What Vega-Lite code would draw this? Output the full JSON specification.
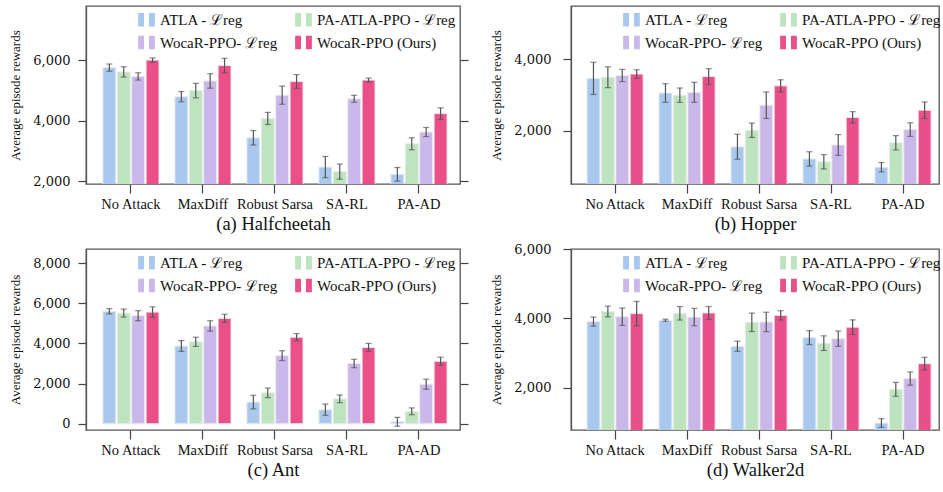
{
  "$schema": "https://vega.github.io/schema/vega-lite/v6.json",
  "padding": {"left": 9, "top": 5, "right": 0, "bottom": 0},
  "config": {
    "font": "Liberation Serif",
    "view": {"stroke": "#555", "strokeWidth": 1.3},
    "axis": {"labelFont": "Liberation Serif", "titleFont": "Liberation Serif", "domainColor": "#555", "tickColor": "#444", "labelColor": "#111", "titleColor": "#111", "grid": false, "domainWidth": 1.3, "tickWidth": 1.2},
    "axisY": {"labelFont": "DejaVu Serif", "labelFontSize": 13, "titleFontSize": 13, "titleFontWeight": "normal", "tickSize": 8, "labelPadding": 8, "titlePadding": 10, "format": ",.0f"},
    "axisX": {"labelFontSize": 14.5, "labelAngle": 0, "tickSize": 9, "labelPadding": 4, "titleFontSize": 18.5, "titleFontWeight": "normal", "titlePadding": 4, "domain": false},
    "legend": {"orient": "none", "legendX": 52, "legendY": 5, "columns": 2, "direction": "horizontal", "title": null, "labelFont": "Liberation Serif", "labelFontSize": 15, "labelColor": "#111", "symbolType": "M-1,-0.8H-0.3V0.8H-1Z M0.3,-0.8H1V0.8H0.3Z", "symbolSize": 280, "symbolStrokeWidth": 0, "symbolOpacity": 1, "labelOffset": 5, "rowPadding": 6, "columnPadding": 17, "labelLimit": 200}
  },
  "datasets": {
    "rewards": [
      {"env": "Halfcheetah", "attack": "No Attack", "method": "ATLA - ℒreg", "mean": 5760, "lo": 5640, "hi": 5880},
      {"env": "Halfcheetah", "attack": "No Attack", "method": "PA-ATLA-PPO - ℒreg", "mean": 5620, "lo": 5450, "hi": 5790},
      {"env": "Halfcheetah", "attack": "No Attack", "method": "WocaR-PPO- ℒreg", "mean": 5470, "lo": 5350, "hi": 5590},
      {"env": "Halfcheetah", "attack": "No Attack", "method": "WocaR-PPO (Ours)", "mean": 6010, "lo": 5940, "hi": 6080},
      {"env": "Halfcheetah", "attack": "MaxDiff", "method": "ATLA - ℒreg", "mean": 4800, "lo": 4630, "hi": 4970},
      {"env": "Halfcheetah", "attack": "MaxDiff", "method": "PA-ATLA-PPO - ℒreg", "mean": 5000, "lo": 4760, "hi": 5240},
      {"env": "Halfcheetah", "attack": "MaxDiff", "method": "WocaR-PPO- ℒreg", "mean": 5320, "lo": 5080, "hi": 5560},
      {"env": "Halfcheetah", "attack": "MaxDiff", "method": "WocaR-PPO (Ours)", "mean": 5830, "lo": 5590, "hi": 6070},
      {"env": "Halfcheetah", "attack": "Robust Sarsa", "method": "ATLA - ℒreg", "mean": 3440, "lo": 3200, "hi": 3680},
      {"env": "Halfcheetah", "attack": "Robust Sarsa", "method": "PA-ATLA-PPO - ℒreg", "mean": 4080, "lo": 3880, "hi": 4280},
      {"env": "Halfcheetah", "attack": "Robust Sarsa", "method": "WocaR-PPO- ℒreg", "mean": 4850, "lo": 4550, "hi": 5150},
      {"env": "Halfcheetah", "attack": "Robust Sarsa", "method": "WocaR-PPO (Ours)", "mean": 5300, "lo": 5070, "hi": 5530},
      {"env": "Halfcheetah", "attack": "SA-RL", "method": "ATLA - ℒreg", "mean": 2470, "lo": 2120, "hi": 2820},
      {"env": "Halfcheetah", "attack": "SA-RL", "method": "PA-ATLA-PPO - ℒreg", "mean": 2320, "lo": 2070, "hi": 2570},
      {"env": "Halfcheetah", "attack": "SA-RL", "method": "WocaR-PPO- ℒreg", "mean": 4730, "lo": 4615, "hi": 4845},
      {"env": "Halfcheetah", "attack": "SA-RL", "method": "WocaR-PPO (Ours)", "mean": 5350, "lo": 5285, "hi": 5415},
      {"env": "Halfcheetah", "attack": "PA-AD", "method": "ATLA - ℒreg", "mean": 2230, "lo": 2005, "hi": 2455},
      {"env": "Halfcheetah", "attack": "PA-AD", "method": "PA-ATLA-PPO - ℒreg", "mean": 3240, "lo": 3040, "hi": 3440},
      {"env": "Halfcheetah", "attack": "PA-AD", "method": "WocaR-PPO- ℒreg", "mean": 3630, "lo": 3480, "hi": 3780},
      {"env": "Halfcheetah", "attack": "PA-AD", "method": "WocaR-PPO (Ours)", "mean": 4240, "lo": 4050, "hi": 4430},

      {"env": "Hopper", "attack": "No Attack", "method": "ATLA - ℒreg", "mean": 3470, "lo": 3020, "hi": 3920},
      {"env": "Hopper", "attack": "No Attack", "method": "PA-ATLA-PPO - ℒreg", "mean": 3500, "lo": 3210, "hi": 3790},
      {"env": "Hopper", "attack": "No Attack", "method": "WocaR-PPO- ℒreg", "mean": 3550, "lo": 3380, "hi": 3720},
      {"env": "Hopper", "attack": "No Attack", "method": "WocaR-PPO (Ours)", "mean": 3590, "lo": 3470, "hi": 3710},
      {"env": "Hopper", "attack": "MaxDiff", "method": "ATLA - ℒreg", "mean": 3060, "lo": 2800, "hi": 3320},
      {"env": "Hopper", "attack": "MaxDiff", "method": "PA-ATLA-PPO - ℒreg", "mean": 3000, "lo": 2800, "hi": 3200},
      {"env": "Hopper", "attack": "MaxDiff", "method": "WocaR-PPO- ℒreg", "mean": 3080, "lo": 2800, "hi": 3360},
      {"env": "Hopper", "attack": "MaxDiff", "method": "WocaR-PPO (Ours)", "mean": 3520, "lo": 3300, "hi": 3740},
      {"env": "Hopper", "attack": "Robust Sarsa", "method": "ATLA - ℒreg", "mean": 1560, "lo": 1210, "hi": 1910},
      {"env": "Hopper", "attack": "Robust Sarsa", "method": "PA-ATLA-PPO - ℒreg", "mean": 2020, "lo": 1820, "hi": 2220},
      {"env": "Hopper", "attack": "Robust Sarsa", "method": "WocaR-PPO- ℒreg", "mean": 2720, "lo": 2350, "hi": 3090},
      {"env": "Hopper", "attack": "Robust Sarsa", "method": "WocaR-PPO (Ours)", "mean": 3260, "lo": 3090, "hi": 3430},
      {"env": "Hopper", "attack": "SA-RL", "method": "ATLA - ℒreg", "mean": 1220, "lo": 1020, "hi": 1420},
      {"env": "Hopper", "attack": "SA-RL", "method": "PA-ATLA-PPO - ℒreg", "mean": 1140, "lo": 940, "hi": 1340},
      {"env": "Hopper", "attack": "SA-RL", "method": "WocaR-PPO- ℒreg", "mean": 1610, "lo": 1320, "hi": 1900},
      {"env": "Hopper", "attack": "SA-RL", "method": "WocaR-PPO (Ours)", "mean": 2380, "lo": 2220, "hi": 2540},
      {"env": "Hopper", "attack": "PA-AD", "method": "ATLA - ℒreg", "mean": 990, "lo": 860, "hi": 1120},
      {"env": "Hopper", "attack": "PA-AD", "method": "PA-ATLA-PPO - ℒreg", "mean": 1670, "lo": 1470, "hi": 1870},
      {"env": "Hopper", "attack": "PA-AD", "method": "WocaR-PPO- ℒreg", "mean": 2040, "lo": 1850, "hi": 2230},
      {"env": "Hopper", "attack": "PA-AD", "method": "WocaR-PPO (Ours)", "mean": 2580, "lo": 2350, "hi": 2810},

      {"env": "Ant", "attack": "No Attack", "method": "ATLA - ℒreg", "mean": 5600, "lo": 5470, "hi": 5730},
      {"env": "Ant", "attack": "No Attack", "method": "PA-ATLA-PPO - ℒreg", "mean": 5510, "lo": 5310, "hi": 5710},
      {"env": "Ant", "attack": "No Attack", "method": "WocaR-PPO- ℒreg", "mean": 5380, "lo": 5130, "hi": 5630},
      {"env": "Ant", "attack": "No Attack", "method": "WocaR-PPO (Ours)", "mean": 5560, "lo": 5300, "hi": 5820},
      {"env": "Ant", "attack": "MaxDiff", "method": "ATLA - ℒreg", "mean": 3870, "lo": 3600, "hi": 4140},
      {"env": "Ant", "attack": "MaxDiff", "method": "PA-ATLA-PPO - ℒreg", "mean": 4080, "lo": 3850, "hi": 4310},
      {"env": "Ant", "attack": "MaxDiff", "method": "WocaR-PPO- ℒreg", "mean": 4870, "lo": 4610, "hi": 5130},
      {"env": "Ant", "attack": "MaxDiff", "method": "WocaR-PPO (Ours)", "mean": 5250, "lo": 5050, "hi": 5450},
      {"env": "Ant", "attack": "Robust Sarsa", "method": "ATLA - ℒreg", "mean": 1080, "lo": 740, "hi": 1420},
      {"env": "Ant", "attack": "Robust Sarsa", "method": "PA-ATLA-PPO - ℒreg", "mean": 1540, "lo": 1300, "hi": 1780},
      {"env": "Ant", "attack": "Robust Sarsa", "method": "WocaR-PPO- ℒreg", "mean": 3390, "lo": 3145, "hi": 3635},
      {"env": "Ant", "attack": "Robust Sarsa", "method": "WocaR-PPO (Ours)", "mean": 4310, "lo": 4130, "hi": 4490},
      {"env": "Ant", "attack": "SA-RL", "method": "ATLA - ℒreg", "mean": 700, "lo": 420, "hi": 980},
      {"env": "Ant", "attack": "SA-RL", "method": "PA-ATLA-PPO - ℒreg", "mean": 1240, "lo": 1050, "hi": 1430},
      {"env": "Ant", "attack": "SA-RL", "method": "WocaR-PPO- ℒreg", "mean": 3000, "lo": 2790, "hi": 3210},
      {"env": "Ant", "attack": "SA-RL", "method": "WocaR-PPO (Ours)", "mean": 3800, "lo": 3600, "hi": 4000},
      {"env": "Ant", "attack": "PA-AD", "method": "ATLA - ℒreg", "mean": 100, "lo": -120, "hi": 320},
      {"env": "Ant", "attack": "PA-AD", "method": "PA-ATLA-PPO - ℒreg", "mean": 620, "lo": 450, "hi": 790},
      {"env": "Ant", "attack": "PA-AD", "method": "WocaR-PPO- ℒreg", "mean": 1970, "lo": 1720, "hi": 2220},
      {"env": "Ant", "attack": "PA-AD", "method": "WocaR-PPO (Ours)", "mean": 3110, "lo": 2910, "hi": 3310},

      {"env": "Walker2d", "attack": "No Attack", "method": "ATLA - ℒreg", "mean": 3910, "lo": 3780, "hi": 4040},
      {"env": "Walker2d", "attack": "No Attack", "method": "PA-ATLA-PPO - ℒreg", "mean": 4200, "lo": 4045, "hi": 4355},
      {"env": "Walker2d", "attack": "No Attack", "method": "WocaR-PPO- ℒreg", "mean": 4050, "lo": 3800, "hi": 4300},
      {"env": "Walker2d", "attack": "No Attack", "method": "WocaR-PPO (Ours)", "mean": 4140, "lo": 3790, "hi": 4490},
      {"env": "Walker2d", "attack": "MaxDiff", "method": "ATLA - ℒreg", "mean": 3950, "lo": 3920, "hi": 3980},
      {"env": "Walker2d", "attack": "MaxDiff", "method": "PA-ATLA-PPO - ℒreg", "mean": 4150, "lo": 3955, "hi": 4345},
      {"env": "Walker2d", "attack": "MaxDiff", "method": "WocaR-PPO- ℒreg", "mean": 4040, "lo": 3790, "hi": 4290},
      {"env": "Walker2d", "attack": "MaxDiff", "method": "WocaR-PPO (Ours)", "mean": 4160, "lo": 3975, "hi": 4345},
      {"env": "Walker2d", "attack": "Robust Sarsa", "method": "ATLA - ℒreg", "mean": 3200, "lo": 3055, "hi": 3345},
      {"env": "Walker2d", "attack": "Robust Sarsa", "method": "PA-ATLA-PPO - ℒreg", "mean": 3890, "lo": 3625, "hi": 4155},
      {"env": "Walker2d", "attack": "Robust Sarsa", "method": "WocaR-PPO- ℒreg", "mean": 3900, "lo": 3620, "hi": 4180},
      {"env": "Walker2d", "attack": "Robust Sarsa", "method": "WocaR-PPO (Ours)", "mean": 4090, "lo": 3955, "hi": 4225},
      {"env": "Walker2d", "attack": "SA-RL", "method": "ATLA - ℒreg", "mean": 3450, "lo": 3250, "hi": 3650},
      {"env": "Walker2d", "attack": "SA-RL", "method": "PA-ATLA-PPO - ℒreg", "mean": 3290, "lo": 3080, "hi": 3500},
      {"env": "Walker2d", "attack": "SA-RL", "method": "WocaR-PPO- ℒreg", "mean": 3420, "lo": 3200, "hi": 3640},
      {"env": "Walker2d", "attack": "SA-RL", "method": "WocaR-PPO (Ours)", "mean": 3750, "lo": 3540, "hi": 3960},
      {"env": "Walker2d", "attack": "PA-AD", "method": "ATLA - ℒreg", "mean": 990, "lo": 865, "hi": 1115},
      {"env": "Walker2d", "attack": "PA-AD", "method": "PA-ATLA-PPO - ℒreg", "mean": 1960, "lo": 1760, "hi": 2160},
      {"env": "Walker2d", "attack": "PA-AD", "method": "WocaR-PPO- ℒreg", "mean": 2270, "lo": 2080, "hi": 2460},
      {"env": "Walker2d", "attack": "PA-AD", "method": "WocaR-PPO (Ours)", "mean": 2700, "lo": 2520, "hi": 2880}
    ]
  },
  "data": {"name": "rewards"},
  "columns": 2,
  "spacing": {"column": 20, "row": 8},
  "resolve": {"legend": {"color": "independent"}},
  "concat": [
    {
      "width": 374, "height": 178,
      "transform": [{"filter": "datum.env === 'Halfcheetah'"}],
      "encoding": {
        "x": {"field": "attack", "type": "nominal", "sort": ["No Attack", "MaxDiff", "Robust Sarsa", "SA-RL", "PA-AD"], "scale": {"paddingInner": 0, "paddingOuter": 0.097, "align": 0.64}, "axis": {"title": "(a) Halfcheetah"}},
        "xOffset": {"field": "method", "type": "nominal", "sort": ["ATLA - ℒreg", "PA-ATLA-PPO - ℒreg", "WocaR-PPO- ℒreg", "WocaR-PPO (Ours)"], "scale": {"paddingInner": 0.1, "paddingOuter": 0.55}}
      },
      "resolve": {"axis": {"y": "independent"}},
      "layer": [
        {"mark": {"type": "bar", "stroke": "#ececec", "strokeWidth": 1, "clip": true},
         "encoding": {
           "y": {"field": "mean", "type": "quantitative", "scale": {"domain": [1910, 7800], "nice": false, "zero": false}, "axis": {"title": "Average episode rewards", "values": [2000, 4000, 6000]}},
           "color": {"field": "method", "type": "nominal", "scale": {"domain": ["ATLA - ℒreg", "PA-ATLA-PPO - ℒreg", "WocaR-PPO- ℒreg", "WocaR-PPO (Ours)"], "range": ["#a9c8ee", "#bde3bf", "#cbb8ea", "#e9508a"]}}
         }},
        {"mark": {"type": "rule", "color": "#555", "strokeWidth": 1.2},
         "encoding": {
           "y": {"field": "lo", "type": "quantitative", "scale": {"domain": [1910, 7800], "nice": false, "zero": false}, "axis": {"orient": "right", "labels": false, "title": null, "domain": false, "values": [2000, 4000, 6000]}},
           "y2": {"field": "hi"}
         }},
        {"mark": {"type": "tick", "color": "#555", "thickness": 1.2, "size": 6},
         "encoding": {"y": {"field": "lo", "type": "quantitative", "scale": {"domain": [1910, 7800], "nice": false, "zero": false}, "axis": null}}},
        {"mark": {"type": "tick", "color": "#555", "thickness": 1.2, "size": 6},
         "encoding": {"y": {"field": "hi", "type": "quantitative", "scale": {"domain": [1910, 7800], "nice": false, "zero": false}, "axis": null}}}
      ]
    },
    {
      "width": 368, "height": 178,
      "transform": [{"filter": "datum.env === 'Hopper'"}],
      "encoding": {
        "x": {"field": "attack", "type": "nominal", "sort": ["No Attack", "MaxDiff", "Robust Sarsa", "SA-RL", "PA-AD"], "scale": {"paddingInner": 0, "paddingOuter": 0.056, "align": 1}, "axis": {"title": "(b) Hopper"}},
        "xOffset": {"field": "method", "type": "nominal", "sort": ["ATLA - ℒreg", "PA-ATLA-PPO - ℒreg", "WocaR-PPO- ℒreg", "WocaR-PPO (Ours)"], "scale": {"paddingInner": 0.1, "paddingOuter": 0.55}}
      },
      "layer": [
        {"mark": {"type": "bar", "stroke": "#ececec", "strokeWidth": 1, "clip": true},
         "encoding": {
           "y": {"field": "mean", "type": "quantitative", "scale": {"domain": [520, 5490], "nice": false, "zero": false}, "axis": {"title": "Average episode rewards", "values": [2000, 4000], "labelPadding": 12}},
           "color": {"field": "method", "type": "nominal", "scale": {"domain": ["ATLA - ℒreg", "PA-ATLA-PPO - ℒreg", "WocaR-PPO- ℒreg", "WocaR-PPO (Ours)"], "range": ["#a9c8ee", "#bde3bf", "#cbb8ea", "#e9508a"]}}
         }},
        {"mark": {"type": "rule", "color": "#555", "strokeWidth": 1.2},
         "encoding": {
           "y": {"field": "lo", "type": "quantitative", "scale": {"domain": [520, 5490], "nice": false, "zero": false}},
           "y2": {"field": "hi"}
         }},
        {"mark": {"type": "tick", "color": "#555", "thickness": 1.2, "size": 6},
         "encoding": {"y": {"field": "lo", "type": "quantitative", "scale": {"domain": [520, 5490], "nice": false, "zero": false}}}},
        {"mark": {"type": "tick", "color": "#555", "thickness": 1.2, "size": 6},
         "encoding": {"y": {"field": "hi", "type": "quantitative", "scale": {"domain": [520, 5490], "nice": false, "zero": false}}}}
      ]
    },
    {
      "width": 374, "height": 181,
      "transform": [{"filter": "datum.env === 'Ant'"}],
      "encoding": {
        "x": {"field": "attack", "type": "nominal", "sort": ["No Attack", "MaxDiff", "Robust Sarsa", "SA-RL", "PA-AD"], "scale": {"paddingInner": 0, "paddingOuter": 0.097, "align": 0.64}, "axis": {"title": "(c) Ant"}},
        "xOffset": {"field": "method", "type": "nominal", "sort": ["ATLA - ℒreg", "PA-ATLA-PPO - ℒreg", "WocaR-PPO- ℒreg", "WocaR-PPO (Ours)"], "scale": {"paddingInner": 0.1, "paddingOuter": 0.55}}
      },
      "resolve": {"axis": {"y": "independent"}},
      "layer": [
        {"mark": {"type": "bar", "stroke": "#ececec", "strokeWidth": 1, "clip": true},
         "encoding": {
           "y": {"field": "mean", "type": "quantitative", "scale": {"domain": [-310, 8700], "nice": false, "zero": false}, "axis": {"title": "Average episode rewards", "values": [0, 2000, 4000, 6000, 8000]}},
           "color": {"field": "method", "type": "nominal", "scale": {"domain": ["ATLA - ℒreg", "PA-ATLA-PPO - ℒreg", "WocaR-PPO- ℒreg", "WocaR-PPO (Ours)"], "range": ["#a9c8ee", "#bde3bf", "#cbb8ea", "#e9508a"]}}
         }},
        {"mark": {"type": "rule", "color": "#555", "strokeWidth": 1.2},
         "encoding": {
           "y": {"field": "lo", "type": "quantitative", "scale": {"domain": [-310, 8700], "nice": false, "zero": false}, "axis": {"orient": "right", "labels": false, "title": null, "domain": false, "values": [0, 2000, 4000, 6000, 8000]}},
           "y2": {"field": "hi"}
         }},
        {"mark": {"type": "tick", "color": "#555", "thickness": 1.2, "size": 6},
         "encoding": {"y": {"field": "lo", "type": "quantitative", "scale": {"domain": [-310, 8700], "nice": false, "zero": false}, "axis": null}}},
        {"mark": {"type": "tick", "color": "#555", "thickness": 1.2, "size": 6},
         "encoding": {"y": {"field": "hi", "type": "quantitative", "scale": {"domain": [-310, 8700], "nice": false, "zero": false}, "axis": null}}}
      ]
    },
    {
      "width": 368, "height": 181,
      "transform": [{"filter": "datum.env === 'Walker2d'"}],
      "encoding": {
        "x": {"field": "attack", "type": "nominal", "sort": ["No Attack", "MaxDiff", "Robust Sarsa", "SA-RL", "PA-AD"], "scale": {"paddingInner": 0, "paddingOuter": 0.056, "align": 1}, "axis": {"title": "(d) Walker2d"}},
        "xOffset": {"field": "method", "type": "nominal", "sort": ["ATLA - ℒreg", "PA-ATLA-PPO - ℒreg", "WocaR-PPO- ℒreg", "WocaR-PPO (Ours)"], "scale": {"paddingInner": 0.1, "paddingOuter": 0.55}}
      },
      "layer": [
        {"mark": {"type": "bar", "stroke": "#ececec", "strokeWidth": 1, "clip": true},
         "encoding": {
           "y": {"field": "mean", "type": "quantitative", "scale": {"domain": [790, 6000], "nice": false, "zero": false}, "axis": {"title": "Average episode rewards", "values": [2000, 4000, 6000], "labelPadding": 12}},
           "color": {"field": "method", "type": "nominal", "scale": {"domain": ["ATLA - ℒreg", "PA-ATLA-PPO - ℒreg", "WocaR-PPO- ℒreg", "WocaR-PPO (Ours)"], "range": ["#a9c8ee", "#bde3bf", "#cbb8ea", "#e9508a"]}}
         }},
        {"mark": {"type": "rule", "color": "#555", "strokeWidth": 1.2},
         "encoding": {
           "y": {"field": "lo", "type": "quantitative", "scale": {"domain": [790, 6000], "nice": false, "zero": false}},
           "y2": {"field": "hi"}
         }},
        {"mark": {"type": "tick", "color": "#555", "thickness": 1.2, "size": 6},
         "encoding": {"y": {"field": "lo", "type": "quantitative", "scale": {"domain": [790, 6000], "nice": false, "zero": false}}}},
        {"mark": {"type": "tick", "color": "#555", "thickness": 1.2, "size": 6},
         "encoding": {"y": {"field": "hi", "type": "quantitative", "scale": {"domain": [790, 6000], "nice": false, "zero": false}}}}
      ]
    }
  ]
}
